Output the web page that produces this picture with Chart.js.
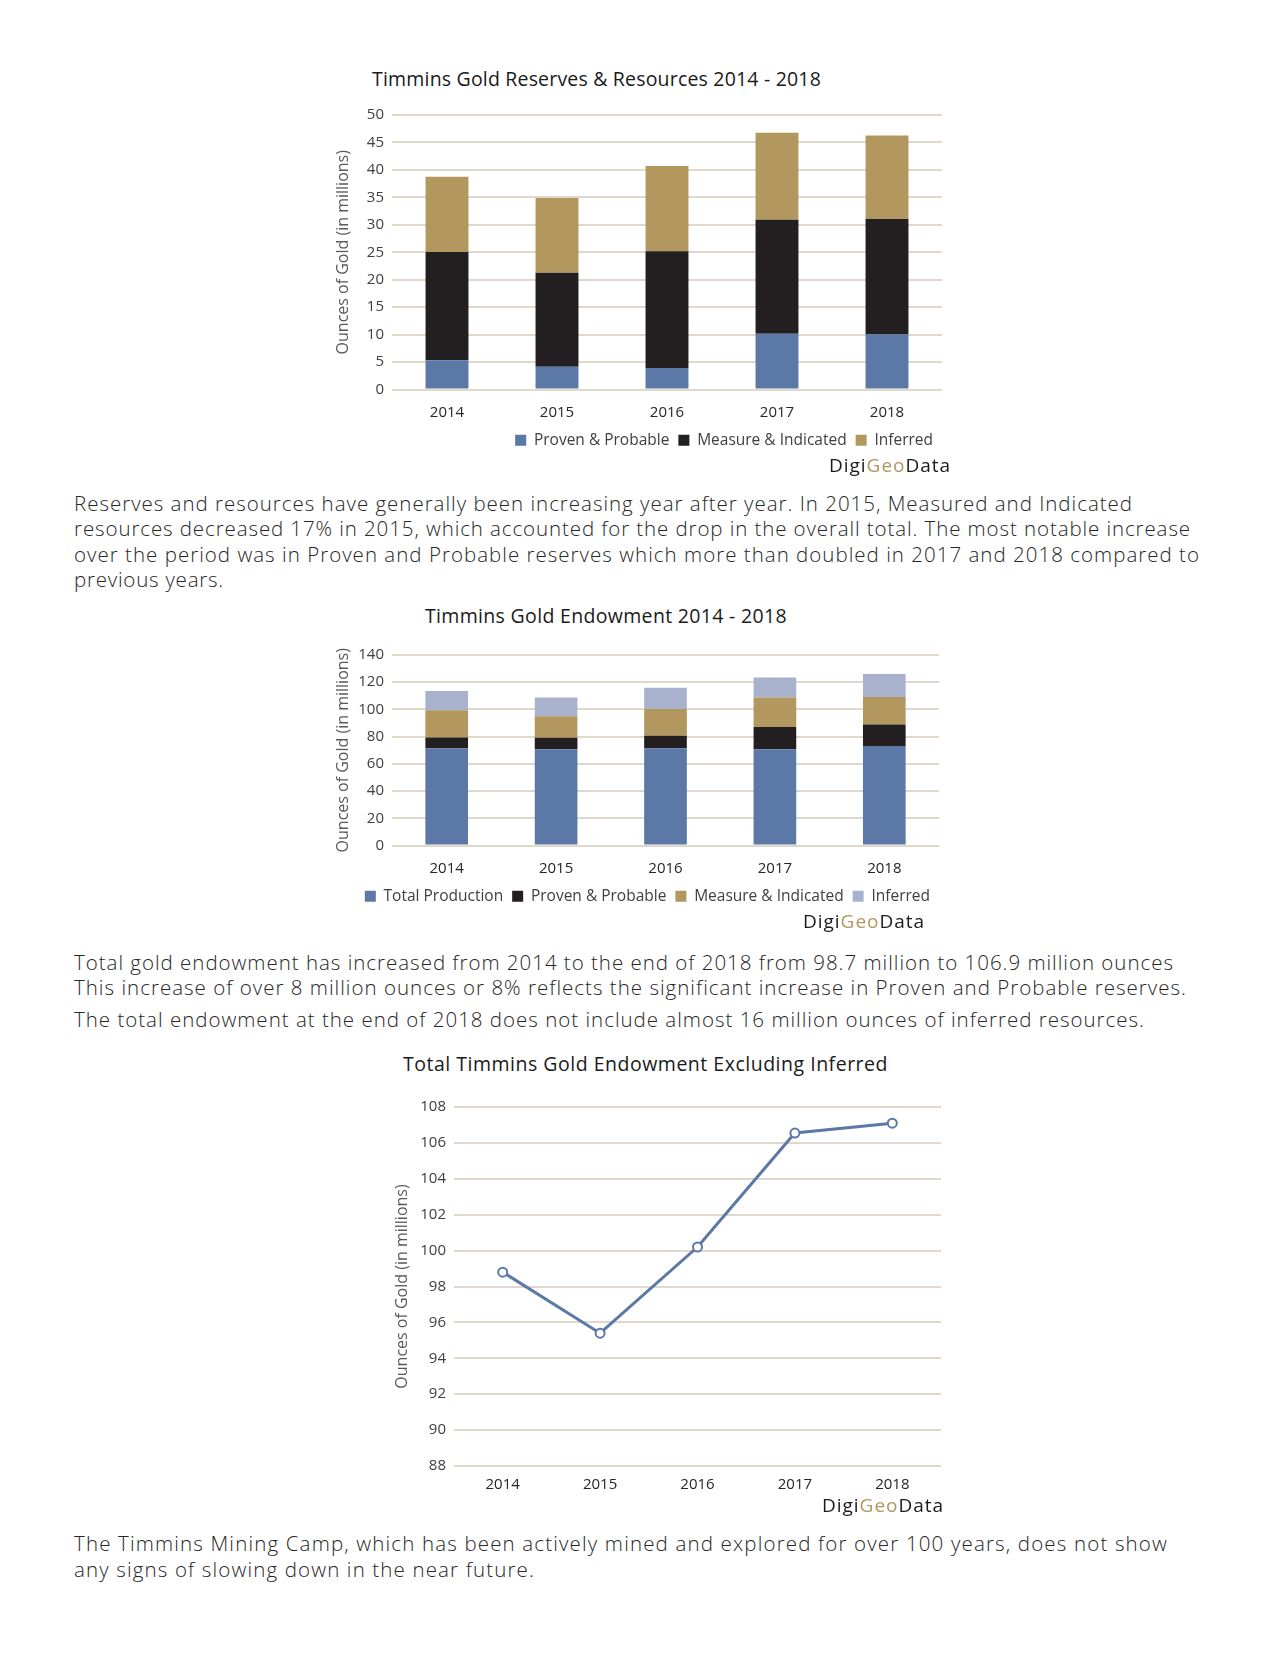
<!DOCTYPE html>
<html>
<head>
<meta charset="utf-8">
<script src="https://cdn.jsdelivr.net/npm/chart.js@4.4.1/dist/chart.umd.min.js"></script>
<style>
  html, body { margin: 0; padding: 0; background: #fff; }
  body { width: 1280px; height: 1656px; position: relative; overflow: hidden; font-family: "Open Sans", sans-serif; }
  .txt { position: absolute; white-space: nowrap; color: #262626; font-weight: 300; font-size: 20.5px; line-height: 25px; }
  .ttl { position: absolute; white-space: nowrap; color: #1a1a1a; font-size: 19.5px; line-height: 24px; }
  .brand { position: absolute; white-space: nowrap; color: #1a1a1a; font-size: 19px; line-height: 24px; font-weight: 500; }
  .brand span { color: #b2975e; }
  .box { position: absolute; }
</style>
</head>
<body>

<div class="ttl" data-x="372" data-y="79" data-w="449">Timmins Gold Reserves &amp; Resources 2014 - 2018</div>
<div class="box" style="left:320px;top:98px;"><canvas id="reservesChart" width="650" height="360"></canvas></div>
<div class="brand" data-r="951" data-y="465" data-w="122">Digi<span>Geo</span>Data</div>

<div class="txt" data-x="74" data-y="503" data-w="1059">Reserves and resources have generally been increasing year after year. In 2015, Measured and Indicated</div>
<div class="txt" data-x="74" data-y="528" data-w="1117">resources decreased 17% in 2015, which accounted for the drop in the overall total. The most notable increase</div>
<div class="txt" data-x="74" data-y="554" data-w="1126">over the period was in Proven and Probable reserves which more than doubled in 2017 and 2018 compared to</div>
<div class="txt" data-x="74" data-y="579" data-w="150">previous years.</div>

<div class="ttl" data-x="425" data-y="616" data-w="362">Timmins Gold Endowment 2014 - 2018</div>
<div class="box" style="left:320px;top:638px;"><canvas id="endowChart" width="647" height="276"></canvas></div>
<div class="brand" data-r="925" data-y="921" data-w="122">Digi<span>Geo</span>Data</div>

<div class="txt" data-x="74" data-y="962" data-w="1100">Total gold endowment has increased from 2014 to the end of 2018 from 98.7 million to 106.9 million ounces</div>
<div class="txt" data-x="74" data-y="987" data-w="1113">This increase of over 8 million ounces or 8% reflects the significant increase in Proven and Probable reserves.</div>
<div class="txt" data-x="74" data-y="1019" data-w="1071">The total endowment at the end of 2018 does not include almost 16 million ounces of inferred resources.</div>

<div class="ttl" data-x="403" data-y="1064" data-w="485">Total Timmins Gold Endowment Excluding Inferred</div>
<div class="box" style="left:379px;top:1090px;"><canvas id="lineChart" width="590" height="408"></canvas></div>
<div class="brand" data-r="944" data-y="1505" data-w="122">Digi<span>Geo</span>Data</div>

<div class="txt" data-x="74" data-y="1543" data-w="1094">The Timmins Mining Camp, which has been actively mined and explored for over 100 years, does not show</div>
<div class="txt" data-x="74" data-y="1569" data-w="461">any signs of slowing down in the near future.</div>

<script>
// --- Data ---
const years = ['2014', '2015', '2016', '2017', '2018'];

// Reserves & resources (millions oz)
const reservesProven = [5.35, 4.15, 3.9, 10.15, 10.0];
const reservesMeasured = [19.7, 17.1, 21.3, 20.75, 21.05];
const reservesInferred = [13.7, 13.65, 15.5, 15.85, 15.2];

// Endowment (millions oz)
const endowProduction = [71.4, 70.7, 71.4, 70.7, 73.1];
const endowProven = [8.0, 8.4, 9.2, 16.4, 15.9];
const endowMeasured = [19.95, 15.9, 19.7, 21.6, 20.2];
const endowInferred = [14.2, 13.7, 15.6, 14.7, 16.85];

// Endowment excluding inferred
const endowExclInferred = [98.8, 95.4, 100.2, 106.55, 107.1];

const blue = '#5b78a7', black = '#231f20', gold = '#b2975e', pale = '#a8b2cd';
const gridColor = '#dfd8cb';
const tickColor = '#404040';

// --- Place HTML text ---
document.querySelectorAll('[data-y]').forEach(el => {
    const w = +el.dataset.w;
    if (w) {
        const natural = el.getBoundingClientRect().width;
        const n = el.textContent.length;
        el.style.letterSpacing = ((w - natural) / n) + 'px';
    }
    const r = el.getBoundingClientRect();
    if (el.dataset.r) el.style.left = (+el.dataset.r - r.width) + 'px';
    else el.style.left = el.dataset.x + 'px';
    el.style.top = (+el.dataset.y - r.height / 2) + 'px';
});

// --- Charts ---
Chart.defaults.font.family = '"Open Sans", sans-serif';
Chart.defaults.font.size = 15;
Chart.defaults.color = tickColor;
Chart.defaults.animation = false;

function yTitle(text) {
    return { display: true, text: text, color: '#595959', font: { size: 16 }, padding: { top: 0, bottom: 6 } };
}

function legendOpts() {
    return {
        position: 'bottom',
        align: 'end',
        labels: { boxWidth: 11, boxHeight: 11, padding: 9, color: tickColor, font: { size: 15.5 } }
    };
}

// Stacked bar: reserves & resources
new Chart(document.getElementById('reservesChart').getContext('2d'), {
    type: 'bar',
    data: {
        labels: years,
        datasets: [
            { label: 'Proven & Probable', data: reservesProven, backgroundColor: blue },
            { label: 'Measure & Indicated', data: reservesMeasured, backgroundColor: black },
            { label: 'Inferred', data: reservesInferred, backgroundColor: gold }
        ]
    },
    options: {
        responsive: false,
        layout: { padding: { left: 14, right: 28, top: 9, bottom: 0 } },
        datasets: { bar: { categoryPercentage: 1, barPercentage: 0.39 } },
        plugins: { legend: legendOpts(), tooltip: { enabled: false } },
        scales: {
            x: {
                stacked: true,
                grid: { display: false },
                border: { display: false },
                ticks: { padding: 6, color: '#262626' },
                afterFit: s => { s.height = 34; }
            },
            y: {
                stacked: true, min: 0, max: 50,
                ticks: { stepSize: 5, padding: 8 },
                grid: { color: gridColor, lineWidth: 2, drawTicks: false },
                border: { display: false },
                title: yTitle('Ounces of Gold (in millions)'),
                afterFit: s => { s.width = 58; }
            }
        }
    }
});

// Stacked bar: endowment
new Chart(document.getElementById('endowChart').getContext('2d'), {
    type: 'bar',
    data: {
        labels: years,
        datasets: [
            { label: 'Total Production', data: endowProduction, backgroundColor: blue },
            { label: 'Proven & Probable', data: endowProven, backgroundColor: black },
            { label: 'Measure & Indicated', data: endowMeasured, backgroundColor: gold },
            { label: 'Inferred', data: endowInferred, backgroundColor: pale }
        ]
    },
    options: {
        responsive: false,
        layout: { padding: { left: 14, right: 28, top: 10, bottom: 0 } },
        datasets: { bar: { categoryPercentage: 1, barPercentage: 0.39 } },
        plugins: { legend: legendOpts(), tooltip: { enabled: false } },
        scales: {
            x: {
                stacked: true,
                grid: { display: false },
                border: { display: false },
                ticks: { padding: 6, color: '#262626' },
                afterFit: s => { s.height = 34; }
            },
            y: {
                stacked: true, min: 0, max: 140,
                ticks: { stepSize: 20, padding: 8 },
                grid: { color: gridColor, lineWidth: 2, drawTicks: false },
                border: { display: false },
                title: yTitle('Ounces of Gold (in millions)'),
                afterFit: s => { s.width = 58; }
            }
        }
    }
});

// Line: endowment excluding inferred
new Chart(document.getElementById('lineChart').getContext('2d'), {
    type: 'line',
    data: {
        labels: years,
        datasets: [{
            label: 'Endowment excluding inferred',
            data: endowExclInferred,
            borderColor: blue,
            borderWidth: 3,
            tension: 0,
            pointRadius: 4.5,
            pointBorderWidth: 2,
            pointBackgroundColor: '#fff',
            pointBorderColor: blue
        }]
    },
    options: {
        responsive: false,
        layout: { padding: { left: 14, right: 28, top: 9, bottom: 6 } },
        plugins: { legend: { display: false }, tooltip: { enabled: false } },
        scales: {
            x: {
                offset: true,
                grid: { display: false },
                border: { display: false },
                ticks: { padding: 2, color: '#262626' },
                afterFit: s => { s.height = 26; }
            },
            y: {
                min: 88, max: 108,
                ticks: { stepSize: 2, padding: 8 },
                grid: { color: gridColor, lineWidth: 2, drawTicks: false },
                border: { display: false },
                title: yTitle('Ounces of Gold (in millions)'),
                afterFit: s => { s.width = 61; }
            }
        }
    }
});
</script>
</body>
</html>
